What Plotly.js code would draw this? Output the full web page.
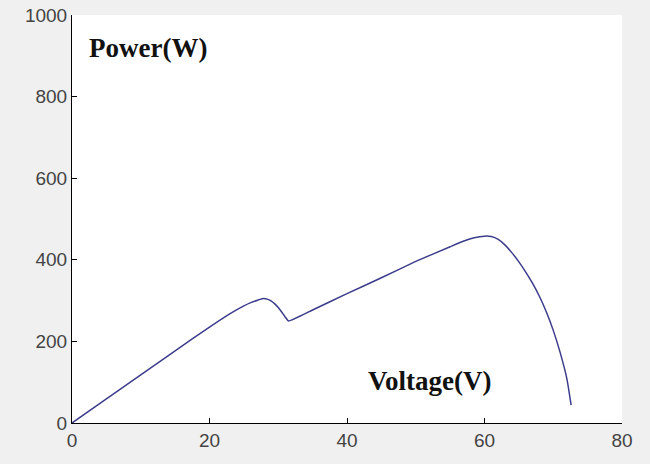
<!DOCTYPE html>
<html>
<head>
<meta charset="utf-8">
<script src="https://cdn.plot.ly/plotly-3.0.1.min.js"></script>
<style>html,body{margin:0;padding:0;background:#f0f0f0;}#chart{width:650px;height:464px;}</style>
</head>
<body>
<div id="chart"></div>
<script>
var voltage = [0, 5, 10, 15, 20, 23, 25, 26, 27, 27.8, 28.5, 29, 29.5, 30, 30.5, 31, 31.5, 35, 40, 45, 50, 55, 57, 58.5, 60, 61, 62, 63, 64, 65, 66, 67, 68, 69, 70, 71, 72, 72.6];
var power   = [0, 59, 118, 177, 235, 268, 287, 295, 301, 305, 303, 299, 292, 283, 272, 260, 250, 277, 317, 356, 396, 432, 446, 454, 458, 457, 450, 436, 417, 395, 370, 342, 310, 272, 227, 173, 107, 44];
var xTicks = [0, 20, 40, 60, 80];
var yTicks = [0, 200, 400, 600, 800, 1000];
var xLabel = "Voltage(V)";
var yLabel = "Power(W)";

var trace = {
  x: voltage, y: power, type: 'scatter', mode: 'lines',
  line: {color: '#3c3c8c', width: 1.5, shape: 'spline', smoothing: 0.4},
  hoverinfo: 'skip'
};
var tickFont = {family: 'Liberation Sans, Arial, sans-serif', size: 19, color: '#444444'};
var layout = {
  width: 650, height: 464,
  paper_bgcolor: '#f0f0f0', plot_bgcolor: '#ffffff',
  margin: {l: 72, r: 28, t: 15, b: 41},
  showlegend: false,
  xaxis: {
    range: [0, 80], tickvals: xTicks, ticktext: xTicks.map(String),
    ticks: 'inside', ticklen: 5, tickcolor: '#000', showline: true, linecolor: '#000', linewidth: 1,
    showgrid: false, zeroline: false, tickfont: tickFont, mirror: false
  },
  yaxis: {
    range: [0, 1000], tickvals: yTicks, ticktext: yTicks.map(String),
    ticks: 'inside', ticklen: 5, tickcolor: '#000', showline: true, linecolor: '#000', linewidth: 1,
    showgrid: false, zeroline: false, tickfont: tickFont
  },
  annotations: [
    {x: 2.2, y: 919, xref: 'x', yref: 'y', xanchor: 'left', yanchor: 'middle', showarrow: false,
     text: '<b>' + yLabel + '</b>', font: {family: 'Liberation Serif, Times New Roman, serif', size: 27, color: '#111'}},
    {x: 42.8, y: 103, xref: 'x', yref: 'y', xanchor: 'left', yanchor: 'middle', showarrow: false,
     text: '<b>' + xLabel + '</b>', font: {family: 'Liberation Serif, Times New Roman, serif', size: 27, color: '#111'}}
  ]
};
Plotly.newPlot('chart', [trace], layout, {displayModeBar: false, staticPlot: true});
</script>
</body>
</html>
